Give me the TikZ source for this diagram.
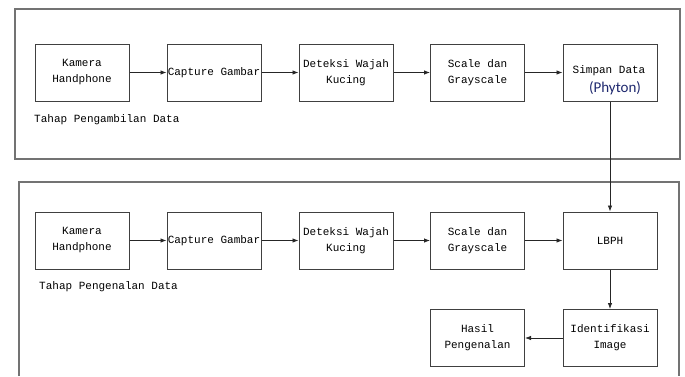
\documentclass[tikz,border=0pt]{standalone}
\usepackage{fontspec}
\setmainfont{Liberation Mono}
\newfontfamily\phyfont{Carlito}
\usetikzlibrary{arrows.meta}
\definecolor{phyblue}{RGB}{30,40,110}
\tikzset{
  kotak/.style={draw=black!75, line width=1pt, minimum width=94pt, minimum height=57pt,
                align=center, inner sep=0pt, font=\fontsize{11}{16}\selectfont},
  panah/.style={-{Latex[length=6pt,width=4.5pt]}, line width=0.8pt, draw=black!85},
  bingkai/.style={draw=black!55, line width=1.3pt},
  ket/.style={anchor=west, inner sep=0pt, font=\fontsize{11}{13}\selectfont}
}
\begin{document}
\begin{tikzpicture}[x=1pt, y=-1pt]
    \useasboundingbox (0,0) rectangle (685,376);
    % bingkai tahap
    \draw[bingkai] (15,9) rectangle (680,159);
    \draw[bingkai] (19,376) -- (19,182) -- (679,182) -- (679,376);
    % tahap pengambilan data
    \node[kotak] (A1) at (82,72.5) {Kamera\\Handphone};
    \node[kotak] (A2) at (214,72.5) {Capture Gambar};
    \node[kotak] (A3) at (346,72.5) {Deteksi Wajah\\Kucing};
    \node[kotak] (A4) at (477.5,72.5) {Scale dan\\Grayscale};
    \node[kotak] (A5) at (610,72.5) {};
    \node[font=\fontsize{11}{13}\selectfont] (A5t) at (609,71) {Simpan Data};
    \node[font=\phyfont\fontsize{15}{17}\selectfont, text=phyblue] (A5p) at (615,88.5) {(Phyton)};
    \node[ket] (LA) at (34,120) {Tahap Pengambilan Data};
    % tahap pengenalan data
    \node[kotak] (B1) at (82,240.5) {Kamera\\Handphone};
    \node[kotak] (B2) at (214,240.5) {Capture Gambar};
    \node[kotak] (B3) at (346,240.5) {Deteksi Wajah\\Kucing};
    \node[kotak] (B4) at (477.5,240.5) {Scale dan\\Grayscale};
    \node[kotak] (B5) at (610,240.5) {LBPH};
    \node[kotak] (C1) at (610,338) {Identifikasi\\Image};
    \node[kotak] (C2) at (477.5,338) {Hasil\\Pengenalan};
    \node[ket] (LB) at (39,287) {Tahap Pengenalan Data};
    % panah
    \draw[panah] (A1) -- (A2);
    \draw[panah] (A2) -- (A3);
    \draw[panah] (A3) -- (A4);
    \draw[panah] (A4) -- (A5);
    \draw[panah] (A5) -- (B5);
    \draw[panah] (B1) -- (B2);
    \draw[panah] (B2) -- (B3);
    \draw[panah] (B3) -- (B4);
    \draw[panah] (B4) -- (B5);
    \draw[panah] (B5) -- (C1);
    \draw[panah] (C1) -- (C2);
\end{tikzpicture}
\end{document}
